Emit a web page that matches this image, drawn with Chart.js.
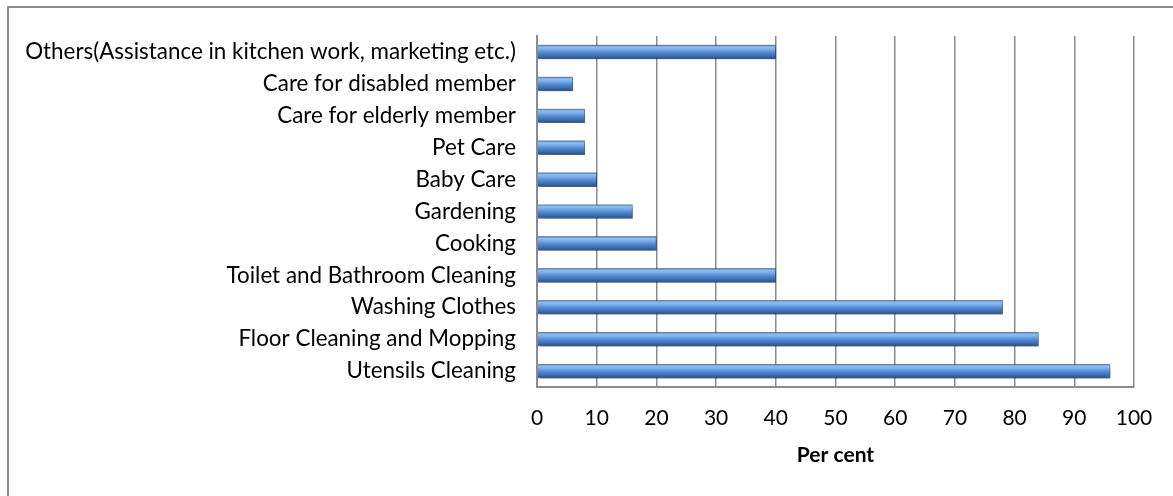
<!DOCTYPE html>
<html>
<head>
<meta charset="utf-8">
<title>Tasks performed by domestic workers</title>
<script src="https://cdn.jsdelivr.net/npm/chart.js@4/dist/chart.umd.min.js"></script>
<style>
  html, body { margin: 0; padding: 0; background: #fff; }
  canvas { display: block; }
</style>
</head>
<body>
<canvas id="chart" width="1173" height="496"></canvas>
<script>
// Tasks, listed top to bottom
const categories = [
  'Others(Assistance in kitchen work, marketing etc.)',
  'Care for disabled member',
  'Care for elderly member',
  'Pet Care',
  'Baby Care',
  'Gardening',
  'Cooking',
  'Toilet and Bathroom Cleaning',
  'Washing Clothes',
  'Floor Cleaning and Mopping',
  'Utensils Cleaning'
];
// Share of respondents (per cent)
const percentValues = [40, 6, 8, 8, 10, 16, 20, 40, 78, 84, 96];
const xTicks = [0, 10, 20, 30, 40, 50, 60, 70, 80, 90, 100];
const xTitle = 'Per cent';

const FONT = 'Lato, "Open Sans", sans-serif';
const BAR_H = 14;

// vertical "cylinder" shading for each bar
function barFill(ctx) {
  const chart = ctx.chart;
  if (!chart.chartArea || ctx.type !== 'data') return '#4f81bd';
  const y = chart.scales.y.getPixelForValue(ctx.dataIndex);
  const h = BAR_H / 2;
  const g = chart.ctx.createLinearGradient(0, y - h, 0, y + h);
  g.addColorStop(0.0, '#3f71b2');
  g.addColorStop(0.15, '#8fc0f4');
  g.addColorStop(0.35, '#72a7e6');
  g.addColorStop(0.6, '#4c83cb');
  g.addColorStop(0.85, '#3565a6');
  g.addColorStop(1.0, '#264c80');
  return g;
}

// soft drop shadow under the bars
const barShadow = {
  id: 'barShadow',
  beforeDatasetsDraw(chart) {
    const c = chart.ctx;
    c.save();
    c.shadowColor = 'rgba(0,0,0,0.4)';
    c.shadowBlur = 5;
    c.shadowOffsetX = 2;
    c.shadowOffsetY = 3;
  },
  afterDatasetsDraw(chart) {
    chart.ctx.restore();
  }
};

// thin frame around the chart
const frame = {
  id: 'frame',
  beforeDraw(chart) {
    const c = chart.ctx;
    c.save();
    c.strokeStyle = '#8c8c8c';
    c.lineWidth = 2;
    c.beginPath();
    c.moveTo(8, chart.height + 2);
    c.lineTo(8, 7);
    c.lineTo(chart.width + 2, 7);
    c.stroke();
    c.restore();
  }
};

new Chart(document.getElementById('chart'), {
  type: 'bar',
  data: {
    labels: categories,
    datasets: [{
      data: percentValues,
      backgroundColor: barFill,
      borderColor: 'rgba(38,72,120,0.6)',
      borderWidth: 1,
      borderSkipped: 'start',
      barThickness: BAR_H
    }]
  },
  plugins: [frame, barShadow],
  options: {
    indexAxis: 'y',
    responsive: false,
    animation: false,
    devicePixelRatio: 1,
    layout: { padding: { left: 0, right: 39, top: 36, bottom: 0 } },
    plugins: {
      legend: { display: false },
      tooltip: { enabled: false }
    },
    scales: {
      x: {
        min: 0,
        max: 100,
        afterBuildTicks(scale) {
          scale.ticks = xTicks.map(v => ({ value: v }));
        },
        afterFit(scale) { scale.height = 109; },
        grid: {
          color: '#8c8c8c',
          lineWidth: 1.5,
          drawTicks: false
        },
        border: { display: true, color: '#8c8c8c', width: 2 },
        ticks: {
          color: '#000',
          padding: 19,
          font: { family: FONT, size: 21 }
        },
        title: {
          display: true,
          text: xTitle,
          color: '#000',
          font: { family: FONT, size: 21, weight: 'bold' },
          padding: { top: 0, bottom: 28 }
        }
      },
      y: {
        afterFit(scale) { scale.width = 537; },
        grid: { display: false, drawTicks: false },
        border: { display: true, color: '#8c8c8c', width: 2 },
        ticks: {
          color: '#000',
          padding: 21,
          font: { family: FONT, size: 22.4 }
        }
      }
    }
  }
});
</script>
</body>
</html>
